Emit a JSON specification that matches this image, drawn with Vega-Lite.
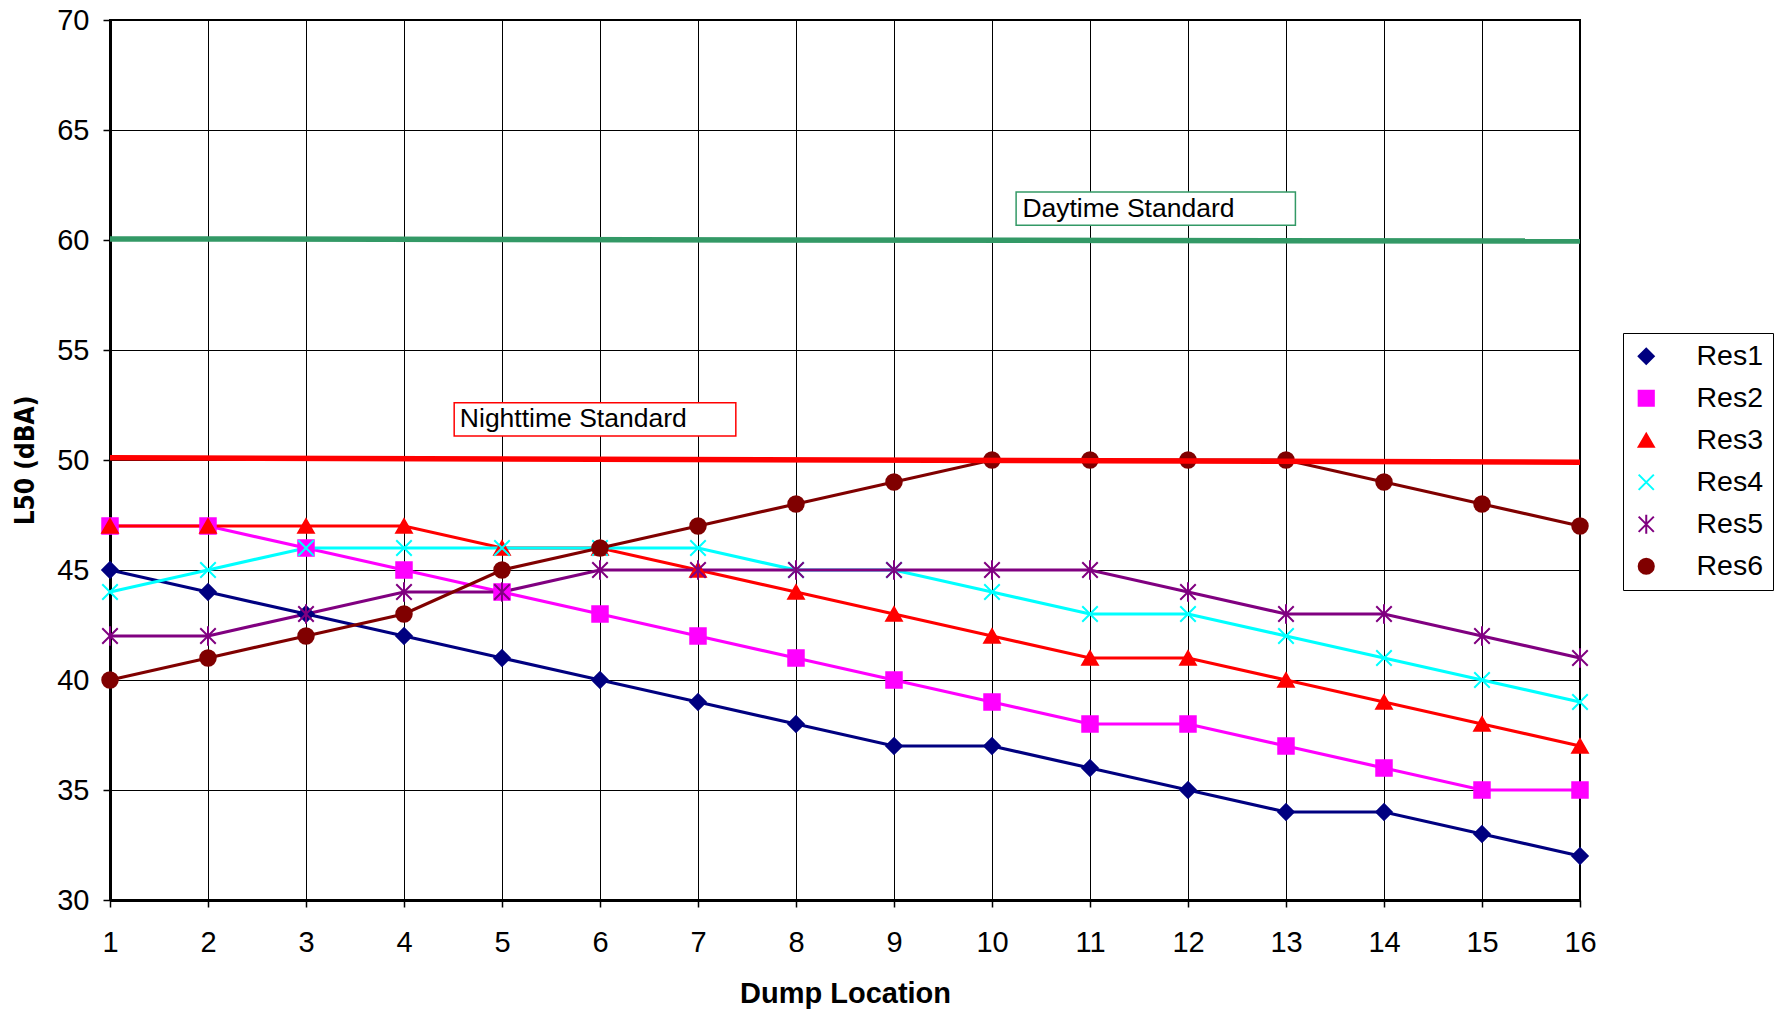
{
  "$schema": "https://vega.github.io/schema/vega-lite/v6.json",
  "width": 1470,
  "height": 880,
  "autosize": {"type": "none"},
  "padding": {"left": 110, "top": 20, "right": 207, "bottom": 112},
  "background": "white",
  "datasets": {
    "series": [
      {"loc":1,"series":"Res1","value":45},{"loc":2,"series":"Res1","value":44},{"loc":3,"series":"Res1","value":43},{"loc":4,"series":"Res1","value":42},{"loc":5,"series":"Res1","value":41},{"loc":6,"series":"Res1","value":40},{"loc":7,"series":"Res1","value":39},{"loc":8,"series":"Res1","value":38},{"loc":9,"series":"Res1","value":37},{"loc":10,"series":"Res1","value":37},{"loc":11,"series":"Res1","value":36},{"loc":12,"series":"Res1","value":35},{"loc":13,"series":"Res1","value":34},{"loc":14,"series":"Res1","value":34},{"loc":15,"series":"Res1","value":33},{"loc":16,"series":"Res1","value":32},
      {"loc":1,"series":"Res2","value":47},{"loc":2,"series":"Res2","value":47},{"loc":3,"series":"Res2","value":46},{"loc":4,"series":"Res2","value":45},{"loc":5,"series":"Res2","value":44},{"loc":6,"series":"Res2","value":43},{"loc":7,"series":"Res2","value":42},{"loc":8,"series":"Res2","value":41},{"loc":9,"series":"Res2","value":40},{"loc":10,"series":"Res2","value":39},{"loc":11,"series":"Res2","value":38},{"loc":12,"series":"Res2","value":38},{"loc":13,"series":"Res2","value":37},{"loc":14,"series":"Res2","value":36},{"loc":15,"series":"Res2","value":35},{"loc":16,"series":"Res2","value":35},
      {"loc":1,"series":"Res3","value":47},{"loc":2,"series":"Res3","value":47},{"loc":3,"series":"Res3","value":47},{"loc":4,"series":"Res3","value":47},{"loc":5,"series":"Res3","value":46},{"loc":6,"series":"Res3","value":46},{"loc":7,"series":"Res3","value":45},{"loc":8,"series":"Res3","value":44},{"loc":9,"series":"Res3","value":43},{"loc":10,"series":"Res3","value":42},{"loc":11,"series":"Res3","value":41},{"loc":12,"series":"Res3","value":41},{"loc":13,"series":"Res3","value":40},{"loc":14,"series":"Res3","value":39},{"loc":15,"series":"Res3","value":38},{"loc":16,"series":"Res3","value":37},
      {"loc":1,"series":"Res4","value":44},{"loc":2,"series":"Res4","value":45},{"loc":3,"series":"Res4","value":46},{"loc":4,"series":"Res4","value":46},{"loc":5,"series":"Res4","value":46},{"loc":6,"series":"Res4","value":46},{"loc":7,"series":"Res4","value":46},{"loc":8,"series":"Res4","value":45},{"loc":9,"series":"Res4","value":45},{"loc":10,"series":"Res4","value":44},{"loc":11,"series":"Res4","value":43},{"loc":12,"series":"Res4","value":43},{"loc":13,"series":"Res4","value":42},{"loc":14,"series":"Res4","value":41},{"loc":15,"series":"Res4","value":40},{"loc":16,"series":"Res4","value":39},
      {"loc":1,"series":"Res5","value":42},{"loc":2,"series":"Res5","value":42},{"loc":3,"series":"Res5","value":43},{"loc":4,"series":"Res5","value":44},{"loc":5,"series":"Res5","value":44},{"loc":6,"series":"Res5","value":45},{"loc":7,"series":"Res5","value":45},{"loc":8,"series":"Res5","value":45},{"loc":9,"series":"Res5","value":45},{"loc":10,"series":"Res5","value":45},{"loc":11,"series":"Res5","value":45},{"loc":12,"series":"Res5","value":44},{"loc":13,"series":"Res5","value":43},{"loc":14,"series":"Res5","value":43},{"loc":15,"series":"Res5","value":42},{"loc":16,"series":"Res5","value":41},
      {"loc":1,"series":"Res6","value":40},{"loc":2,"series":"Res6","value":41},{"loc":3,"series":"Res6","value":42},{"loc":4,"series":"Res6","value":43},{"loc":5,"series":"Res6","value":45},{"loc":6,"series":"Res6","value":46},{"loc":7,"series":"Res6","value":47},{"loc":8,"series":"Res6","value":48},{"loc":9,"series":"Res6","value":49},{"loc":10,"series":"Res6","value":50},{"loc":11,"series":"Res6","value":50},{"loc":12,"series":"Res6","value":50},{"loc":13,"series":"Res6","value":50},{"loc":14,"series":"Res6","value":49},{"loc":15,"series":"Res6","value":48},{"loc":16,"series":"Res6","value":47}
    ],
    "day": [{"loc":1,"value":60.05},{"loc":16,"value":59.95}],
    "night": [{"loc":1,"value":50.1},{"loc":16,"value":49.9}],
    "dayNote": [{"label":"Daytime Standard","x1":10.246,"x2":13.096,"y1":60.67,"y2":62.18,"tx":10.31,"ty":61.41}],
    "nightNote": [{"label":"Nighttime Standard","x1":4.512,"x2":7.386,"y1":51.09,"y2":52.6,"tx":4.57,"ty":51.86}]
  },
  "layer": [
    {
      "data": {"name": "series"},
      "encoding": {
        "x": {"field": "loc", "type": "quantitative",
              "scale": {"domain": [1, 16], "nice": false, "zero": false},
              "axis": {"values": [1,2,3,4,5,6,7,8,9,10,11,12,13,14,15,16], "format": "d", "title": "Dump Location",
                       "labelBaseline": "middle", "labelPadding": 35, "labelOverlap": false, "labelFlush": false, "labelBound": false,
                       "titleFontSize": 29, "titleBaseline": "middle", "titleY": 93, "titleX": 735}},
        "y": {"field": "value", "type": "quantitative",
              "scale": {"domain": [30, 70], "nice": false, "zero": false},
              "axis": {"values": [30,35,40,45,50,55,60,65,70], "title": "L50 (dBA)", "labelPadding": 14,
                       "titleFont": "DejaVu Sans Condensed, Liberation Sans", "titleFontSize": 26, "titleX": -85, "titleY": 440,
                       "titleAngle": -90, "titleAlign": "center", "titleBaseline": "middle"}},
        "color": {"field": "series", "type": "nominal",
                  "scale": {"domain": ["Res1","Res2","Res3","Res4","Res5","Res6"],
                            "range": ["#000080","#FF00FF","#FF0000","#00FFFF","#800080","#800000"]},
                  "legend": {"title": null, "orient": "none", "legendX": 1513, "legendY": 313,
                             "symbolSize": 230, "labelFontSize": 28.5, "labelFont": "Liberation Sans", "labelColor": "black",
                             "labelOffset": 36, "rowPadding": 13, "padding": 9, "strokeColor": "black", "fillColor": "white",
                             "symbolStrokeWidth": 2, "symbolOpacity": 1}}
      },
      "layer": [
        {"mark": {"type": "line", "strokeWidth": 3.2}},
        {"mark": {"type": "point", "filled": true, "opacity": 1, "size": 240, "strokeWidth": 2},
         "encoding": {
           "shape": {"field": "series", "type": "nominal", "legend": null,
                     "scale": {"domain": ["Res1","Res2","Res3","Res4","Res5","Res6"],
                               "range": ["diamond","square","triangle-up","M-1,-1L1,1M1,-1L-1,1","M-1,-1L1,1M1,-1L-1,1M0,-1.25V1.25","circle"]}},
           "stroke": {"field": "series", "type": "nominal", "legend": null,
                      "scale": {"domain": ["Res1","Res2","Res3","Res4","Res5","Res6"],
                                "range": ["#000080","#FF00FF","#FF0000","#00FFFF","#800080","#800000"]}}
         }}
      ]
    },
    {
      "data": {"name": "day"},
      "mark": {"type": "line", "color": "#339966", "strokeWidth": 5.5},
      "encoding": {"x": {"field": "loc", "type": "quantitative"}, "y": {"field": "value", "type": "quantitative"}}
    },
    {
      "data": {"name": "night"},
      "mark": {"type": "line", "color": "#FF0000", "strokeWidth": 5.5},
      "encoding": {"x": {"field": "loc", "type": "quantitative"}, "y": {"field": "value", "type": "quantitative"}}
    },
    {
      "data": {"name": "dayNote"},
      "mark": {"type": "rect", "fill": "white", "stroke": "#339966", "strokeWidth": 1.5},
      "encoding": {
        "x": {"field": "x1", "type": "quantitative"}, "x2": {"field": "x2"},
        "y": {"field": "y1", "type": "quantitative"}, "y2": {"field": "y2"}
      }
    },
    {
      "data": {"name": "nightNote"},
      "mark": {"type": "rect", "fill": "white", "stroke": "#FF0000", "strokeWidth": 1.5},
      "encoding": {
        "x": {"field": "x1", "type": "quantitative"}, "x2": {"field": "x2"},
        "y": {"field": "y1", "type": "quantitative"}, "y2": {"field": "y2"}
      }
    },
    {
      "data": {"name": "dayNote"},
      "mark": {"type": "text", "align": "left", "baseline": "middle", "font": "Liberation Sans", "fontSize": 26.5, "color": "black"},
      "encoding": {
        "x": {"field": "tx", "type": "quantitative"},
        "y": {"field": "ty", "type": "quantitative"},
        "text": {"field": "label"}
      }
    },
    {
      "data": {"name": "nightNote"},
      "mark": {"type": "text", "align": "left", "baseline": "middle", "font": "Liberation Sans", "fontSize": 26.5, "color": "black"},
      "encoding": {
        "x": {"field": "tx", "type": "quantitative"},
        "y": {"field": "ty", "type": "quantitative"},
        "text": {"field": "label"}
      }
    }
  ],
  "config": {
    "view": {"stroke": "black", "strokeWidth": 2},
    "axis": {"labelFont": "Liberation Sans", "labelFontSize": 29, "labelColor": "black",
             "titleFont": "Liberation Sans", "titleFontSize": 27, "titleColor": "black", "titleFontWeight": "bold",
             "domainColor": "black", "domainWidth": 3, "tickColor": "black", "tickSize": 7, "tickWidth": 1.5,
             "gridColor": "black", "gridWidth": 1, "gridOpacity": 1}
  }
}
